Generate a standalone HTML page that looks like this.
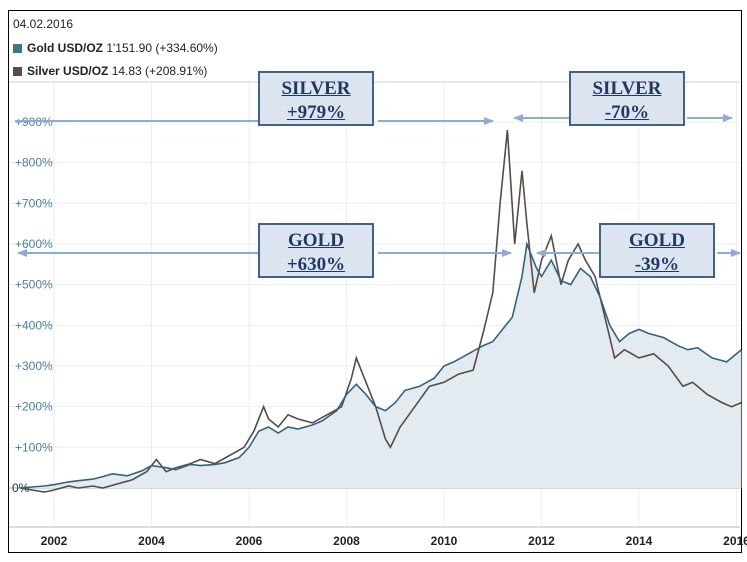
<!DOCTYPE html>
<html><head><meta charset="utf-8"><style>
body{margin:0;background:#fff;width:747px;height:562px;overflow:hidden;font-family:"Liberation Sans",sans-serif}
#frame{position:absolute;left:8px;top:10px;width:732px;height:541px;border:1.5px solid #000}
.lg{position:absolute;font-size:12px;color:#222}
.sw{display:inline-block;width:9px;height:9px;margin-right:5px;vertical-align:-1px}
.box{position:absolute;width:116px;height:55px;background:#dce5ef;border:2px solid #41628a;font-family:"Liberation Serif",serif;font-weight:bold;font-size:19px;color:#1f3864;text-align:center;line-height:24px;padding-top:4px;box-sizing:border-box}
.box span{text-decoration:underline}
</style></head><body>
<div id="frame"></div>
<div class="lg" style="left:13px;top:17px">04.02.2016</div>
<div class="lg" style="left:13px;top:41px"><span class="sw" style="background:#3d7593"></span><b>Gold USD/OZ</b> 1'151.90 (+334.60%)</div>
<div class="lg" style="left:13px;top:64px"><span class="sw" style="background:#554d45"></span><b>Silver USD/OZ</b> 14.83 (+208.91%)</div>
<svg id="chart" width="747" height="562" style="position:absolute;left:0;top:0"></svg>
<div class="box" style="left:258px;top:71px"><span>SILVER</span><br><span>+979%</span></div>
<div class="box" style="left:569px;top:71px"><span>SILVER</span><br><span>-70%</span></div>
<div class="box" style="left:258px;top:223px"><span>GOLD</span><br><span>+630%</span></div>
<div class="box" style="left:599px;top:223px"><span>GOLD</span><br><span>-39%</span></div>
<script>
const yearTicks=[2002,2004,2006,2008,2010,2012,2014,2016];
const yTicks=[0,100,200,300,400,500,600,700,800,900];
const goldT=[2001.3,2001.8,2002,2002.3,2002.5,2002.8,2003,2003.2,2003.5,2003.8,2004,2004.3,2004.5,2004.8,2005,2005.3,2005.5,2005.8,2006,2006.2,2006.4,2006.6,2006.8,2007,2007.3,2007.5,2007.8,2008,2008.2,2008.4,2008.6,2008.8,2009,2009.2,2009.5,2009.8,2010,2010.2,2010.5,2010.8,2011,2011.2,2011.4,2011.6,2011.7,2011.9,2012,2012.2,2012.4,2012.6,2012.8,2013,2013.2,2013.4,2013.6,2013.8,2014,2014.2,2014.5,2014.8,2015,2015.2,2015.5,2015.8,2016,2016.1];
const goldV=[0,5,8,15,18,22,28,35,30,42,55,50,45,58,55,58,62,75,100,140,150,135,150,145,155,165,190,230,255,230,200,190,210,240,250,270,300,310,330,350,360,390,420,520,600,540,520,560,510,500,540,520,470,400,360,380,390,380,370,350,340,345,320,310,330,340];
const silverT=[2001.3,2001.8,2002,2002.3,2002.5,2002.8,2003,2003.3,2003.6,2003.9,2004.1,2004.3,2004.5,2004.8,2005,2005.3,2005.6,2005.9,2006.1,2006.3,2006.4,2006.6,2006.8,2007,2007.3,2007.6,2007.9,2008.1,2008.2,2008.4,2008.6,2008.8,2008.9,2009.1,2009.4,2009.7,2010,2010.3,2010.6,2010.8,2011,2011.15,2011.3,2011.45,2011.6,2011.7,2011.85,2012,2012.2,2012.4,2012.55,2012.75,2012.9,2013.1,2013.3,2013.5,2013.7,2014,2014.3,2014.6,2014.9,2015.1,2015.4,2015.7,2015.9,2016.1];
const silverV=[0,-10,-5,5,0,5,0,10,20,40,70,40,50,60,70,60,80,100,140,200,170,150,180,170,160,180,200,270,320,260,200,120,100,150,200,250,260,280,290,380,480,700,880,600,780,650,480,560,620,500,560,600,560,520,420,320,340,320,330,300,250,260,230,210,200,210];
const svg=document.getElementById('chart');const NS='http://www.w3.org/2000/svg';
const X=y=>54+(y-2002)*48.75, Y=v=>488-v*0.4067;
function el(t,a){const e=document.createElementNS(NS,t);for(const k in a)e.setAttribute(k,a[k]);svg.appendChild(e);return e;}
const hdr=el('line',{x1:9,x2:740,y1:82,y2:82,stroke:'#e6e6e6','stroke-width':2});


yearTicks.forEach(yr=>{const g=el('line',{x1:X(yr),x2:X(yr),y1:83,y2:527,stroke:'#eeeeee'});


const t=el('text',{x:X(yr),y:545,'text-anchor':'middle','font-size':12,'font-weight':'bold',fill:'#222','font-family':'Liberation Sans, sans-serif'});t.textContent=yr;

});
yTicks.forEach(v=>{const g=el('line',{x1:9,x2:740,y1:Y(v),y2:Y(v),stroke:v===0?'#c8c8c8':'#eeeeee','stroke-width':v===0?1.5:1});


const t=el('text',{x:v===0?12:15,y:Y(v)+4,'font-size':12,fill:v===0?'#333':'#4a7fa5','font-family':'Liberation Sans, sans-serif'});t.textContent=(v===0?'':'+')+v+'%';

});
const ax=el('line',{x1:9,x2:740,y1:527,y2:527,stroke:'#dddddd','stroke-width':2});


const gp=goldT.map((t,i)=>X(t).toFixed(1)+','+Y(goldV[i]).toFixed(1));
const area=el('polygon',{points:X(goldT[0])+','+Y(0)+' '+gp.join(' ')+' '+X(goldT[goldT.length-1])+','+Y(0),fill:'#e4ebf0'});


const sl=el('polyline',{points:silverT.map((t,i)=>X(t).toFixed(1)+','+Y(silverV[i]).toFixed(1)).join(' '),fill:'none',stroke:'#554d45','stroke-width':1.6});


const gl=el('polyline',{points:gp.join(' '),fill:'none',stroke:'#2f6480','stroke-width':1.6});


const d=el('defs',{});d.innerHTML='<marker id="ah" markerUnits="userSpaceOnUse" markerWidth="10" markerHeight="8" refX="9" refY="4" orient="auto-start-reverse"><path d="M0,0 L10,4 L0,8 z" fill="#8eaadb"/></marker>';
function arrow(x1,y1,x2,y2,s,e,name){const a={x1,y1,x2,y2,stroke:'#8eaadb','stroke-width':2};if(s)a['marker-start']='url(#ah)';if(e)a['marker-end']='url(#ah)';const l=el('line',a);

}
arrow(15,121,258,121,false,false,'silver-gain-arrow-left');
arrow(378,121,493,121,false,true,'silver-gain-arrow-right');
arrow(514,118,569,118,true,false,'silver-loss-arrow-left');
arrow(687,118,732,118,false,true,'silver-loss-arrow-right');
arrow(18,253,258,253,true,false,'gold-gain-arrow-left');
arrow(378,253,511,253,false,true,'gold-gain-arrow-right');
arrow(537,253,599,253,true,false,'gold-loss-arrow-left');
arrow(717,253,740,253,false,true,'gold-loss-arrow-right');
</script>
</body></html>
